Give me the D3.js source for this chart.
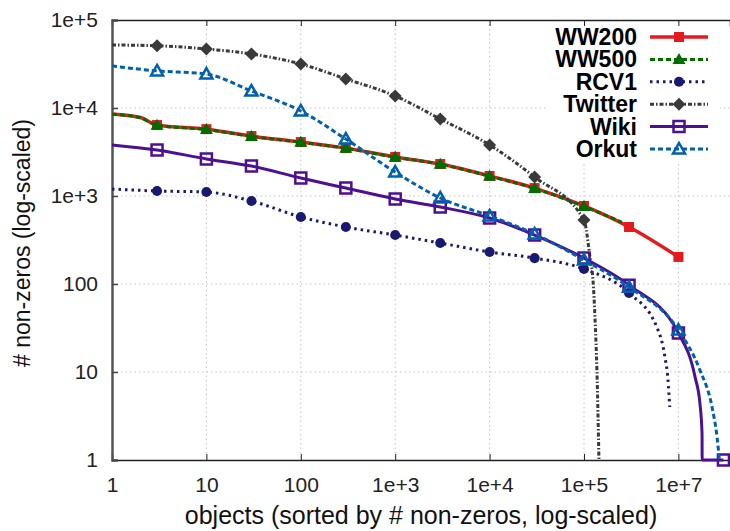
<!DOCTYPE html>
<html>
<head>
<meta charset="utf-8">
<script src="https://cdn.jsdelivr.net/npm/d3@7/dist/d3.min.js"></script>
<style>
  body { margin: 0; background: #fff; }
  text { font-family: "Liberation Sans", Arial, sans-serif; }
</style>
</head>
<body>
<div id="chart"></div>
<script>
// values
var seriesNames = ["WW200", "WW500", "RCV1", "Twitter", "Wiki", "Orkut"];

var ww200X = [1, 2, 3, 10, 30, 100, 300, 1e3, 3e3, 1e4, 3e4, 1e5, 3e5, 1e6];
var ww200Y = [8550, 7800, 6400, 5750, 4800, 4100, 3500, 2780, 2310, 1690, 1230, 770, 444, 203];

var ww500X = [1, 2, 3, 10, 30, 100, 300, 1e3, 3e3, 1e4, 3e4, 1e5, 2.5e5];
var ww500Y = [8500, 7750, 6350, 5700, 4750, 4080, 3480, 2760, 2300, 1680, 1220, 760, 505];

var rcv1X = [1, 3, 10, 30, 100, 300, 1e3, 3e3, 1e4, 3e4, 1e5, 3e5, 5.9e5, 7.2e5, 7.76e5, 8.1e5];
var rcv1Y = [1200, 1140, 1110, 877, 578, 444, 360, 292, 231, 197, 148, 79, 32.5, 14.8, 8.1, 4];

var twitterX = [1, 3, 10, 30, 100, 300, 1e3, 3e3, 1e4, 3e4, 1e5, 1.157e5, 1.245e5, 1.31e5, 1.37e5, 1.44e5];
var twitterY = [52000, 51000, 46800, 41100, 31600, 21400, 13700, 7500, 3800, 1640, 534, 203, 111, 39, 10.5, 1];

var wikiX = [1, 3, 10, 30, 100, 300, 1e3, 3e3, 1e4, 3e4, 1e5, 3e5, 1e6, 1.5e6, 1.69e6, 1.78e6, 1.785e6, 3e6];
var wikiY = [3800, 3330, 2640, 2190, 1600, 1230, 925, 750, 562, 360, 197, 97, 27.7, 8.8, 4.4, 2.0, 1, 1];

var orkutX = [1, 3, 10, 30, 100, 300, 1e3, 3e3, 1e4, 3e4, 1e5, 3e5, 1e6, 1.69e6, 2.27e6, 2.57e6, 2.72e6];
var orkutY = [30000, 26400, 24300, 15600, 9250, 4440, 1870, 950, 593, 370, 187, 92, 30, 10.5, 4.0, 1.8, 1];

// points that carry a marker
var markerX = [3, 10, 30, 100, 300, 1e3, 3e3, 1e4, 3e4, 1e5, 3e5, 1e6, 3e6];

var xTicks = [1, 10, 100, 1e3, 1e4, 1e5, 1e6];
var xTickLabels = ["1", "10", "100", "1e+3", "1e+4", "1e+5", "1e+7"];
var yTicks = [1, 10, 100, 1e3, 1e4, 1e5];
var yTickLabels = ["1", "10", "100", "1e+3", "1e+4", "1e+5"];

var width = 730, height = 531;
var mLeft = 112, mRight = 730, mTop = 20, mBottom = 460;

var svg = d3.select("#chart").append("svg")
  .attr("width", width)
  .attr("height", height);

svg.append("rect").attr("width", width).attr("height", height).attr("fill", "#fff");

var x = d3.scaleLog().domain([1, 3.52e6]).range([mLeft, mRight]);
var y = d3.scaleLog().domain([1, 1e5]).range([mBottom, mTop]);

// grid
svg.append("g").selectAll("line")
  .data(xTicks.slice(1))
  .enter().append("line")
  .attr("x1", function (d) { return x(d); })
  .attr("x2", function (d) { return x(d); })
  .attr("y1", mTop).attr("y2", mBottom)
  .attr("stroke", "#c4c4c4").attr("stroke-width", 1)
  .attr("stroke-dasharray", "1.5,3");

svg.append("g").selectAll("line")
  .data(yTicks.slice(1, -1))
  .enter().append("line")
  .attr("x1", mLeft).attr("x2", mRight)
  .attr("y1", function (d) { return y(d); })
  .attr("y2", function (d) { return y(d); })
  .attr("stroke", "#c4c4c4").attr("stroke-width", 1)
  .attr("stroke-dasharray", "1.5,3");

// opaque key background
svg.append("rect")
  .attr("x", 547).attr("y", 24)
  .attr("width", 173).attr("height", 138)
  .attr("fill", "#fff");

// axes
var xAxis = d3.axisBottom(x).tickValues(xTicks)
  .tickSize(-6).tickPadding(17)
  .tickFormat(function (d, i) { return xTickLabels[i]; });
var gx = svg.append("g")
  .attr("transform", "translate(0," + mBottom + ")")
  .call(xAxis);
gx.select(".domain").attr("stroke", "#222").attr("stroke-width", 1.5);
gx.selectAll(".tick line").attr("stroke", "#222");
gx.selectAll(".tick text").attr("font-size", 21).attr("fill", "#222")
  .attr("font-family", "Liberation Sans, Arial, sans-serif");

var xTop = d3.axisTop(x).tickValues(xTicks).tickSize(-6).tickFormat("");
var gt = svg.append("g").attr("transform", "translate(0," + mTop + ")").call(xTop);
gt.select(".domain").attr("stroke", "#222").attr("stroke-width", 1.5);
gt.selectAll(".tick line").attr("stroke", "#222");

var yAxis = d3.axisLeft(y).tickValues(yTicks)
  .tickSize(-6).tickPadding(14)
  .tickFormat(function (d, i) { return yTickLabels[i]; });
var gy = svg.append("g")
  .attr("transform", "translate(" + mLeft + ",0)")
  .call(yAxis);
gy.select(".domain").attr("stroke", "#555").attr("stroke-width", 2.5);
gy.selectAll(".tick line").attr("stroke", "#444").attr("stroke-width", 1.5);
gy.selectAll(".tick text").attr("font-size", 21).attr("fill", "#222")
  .attr("font-family", "Liberation Sans, Arial, sans-serif");

svg.append("text")
  .attr("x", 421).attr("y", 524)
  .attr("text-anchor", "middle")
  .attr("font-size", 25).attr("fill", "#111")
  .text("objects (sorted by # non-zeros, log-scaled)");

svg.append("text")
  .attr("transform", "translate(30,243) rotate(-90)")
  .attr("text-anchor", "middle")
  .attr("font-size", 23).attr("fill", "#111")
  .text("# non-zeros (log-scaled)");

// series styles
var styles = [
  { xs: ww200X, ys: ww200Y, color: "#e41a1c", width: 3.5, dash: null, marker: "square", fill: true },
  { xs: ww500X, ys: ww500Y, color: "#006d00", width: 3, dash: "5,3", marker: "triangle", fill: true },
  { xs: rcv1X, ys: rcv1Y, color: "#191970", width: 3, dash: "2.5,4", marker: "circle", fill: true },
  { xs: twitterX, ys: twitterY, color: "#3a3a3a", width: 3, dash: "4,2,1.5,2", marker: "diamond", fill: true },
  { xs: wikiX, ys: wikiY, color: "#4b1190", width: 3, dash: null, marker: "square", fill: false },
  { xs: orkutX, ys: orkutY, color: "#0060ad", width: 3, dash: "5,3", marker: "triangle", fill: false }
];

var line = d3.line()
  .x(function (d) { return x(d[0]); })
  .y(function (d) { return y(d[1]); })
  .curve(d3.curveMonotoneX);

function markerPath(type, fill) {
  if (type === "square") return fill ? d3.symbol(d3.symbolSquare, 100)() : "M-5.5,-5.5H5.5V5.5H-5.5Z";
  if (type === "triangle") return fill ? "M0,-6.5L6.5,4.5L-6.5,4.5Z" : "M0,-6L6,4.5L-6,4.5Z";
  if (type === "circle") return d3.symbol(d3.symbolCircle, 80)();
  if (type === "diamond") return "M0,-6.5L6.5,0L0,6.5L-6.5,0Z";
}

function drawMarker(g, type, s, cx, cy) {
  g.append("path")
    .attr("d", markerPath(type, s.fill))
    .attr("transform", "translate(" + cx + "," + cy + ")")
    .attr("fill", s.fill ? s.color : "none")
    .attr("stroke", s.color)
    .attr("stroke-width", s.fill ? 0 : 2.5);
}

var plot = svg.append("g");
styles.forEach(function (s) {
  var pts = s.xs.map(function (v, i) { return [v, s.ys[i]]; });
  plot.append("path")
    .datum(pts)
    .attr("d", line)
    .attr("fill", "none")
    .attr("stroke", s.color)
    .attr("stroke-width", s.width)
    .attr("stroke-dasharray", s.dash);
  pts.forEach(function (p) {
    if (markerX.indexOf(p[0]) >= 0) drawMarker(plot, s.marker, s, x(p[0]), y(p[1]));
  });
});

// key
var key = svg.append("g");
styles.forEach(function (s, i) {
  var ky = 37 + i * 22.4;
  key.append("text")
    .attr("x", 637).attr("y", ky + 8)
    .attr("text-anchor", "end")
    .attr("font-size", 23).attr("font-weight", "bold").attr("fill", "#000")
    .text(seriesNames[i]);
  key.append("line")
    .attr("x1", 650).attr("x2", 708)
    .attr("y1", ky).attr("y2", ky)
    .attr("stroke", s.color)
    .attr("stroke-width", s.width)
    .attr("stroke-dasharray", s.dash);
  drawMarker(key, s.marker, s, 679, ky);
});
</script>
</body>
</html>
